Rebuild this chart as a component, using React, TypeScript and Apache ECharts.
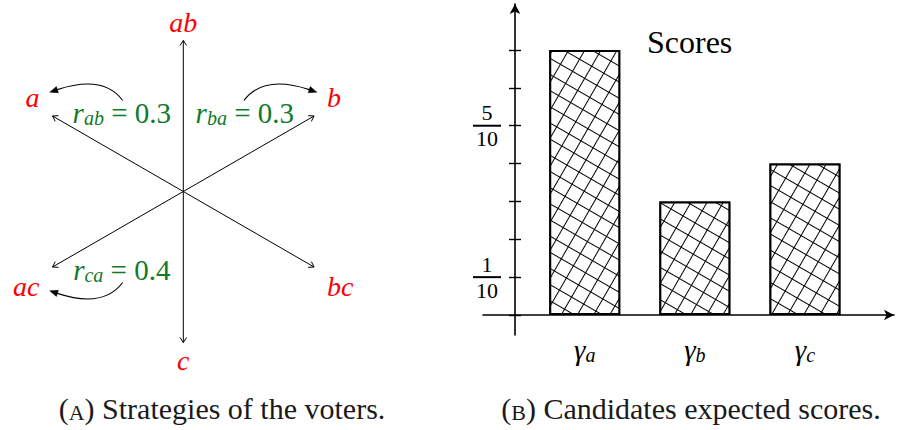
import React, { useEffect, useRef } from 'react';
import * as echarts from 'echarts';

// ---------- data ----------
const strategies = ['ab', 'a', 'b', 'ac', 'bc', 'c'];
const strategyAngles = [90, 150, 30, 210, 330, 270];
const rateNames = ['ab', 'ba', 'ca'];
const rateTargets = ['a', 'b', 'ac'];
const rateValues = [0.3, 0.3, 0.4];

const candidates = ['a', 'b', 'c'];
const scores = [0.7, 0.3, 0.4];
const yTickValues = [0.1, 0.5];
const yTickNumerators = ['1', '5'];
const yTickDenominators = ['10', '10'];
const legendLabel = 'Scores';
const captionTags = ['A', 'B'];
const captionTexts = ['Strategies of the voters.', 'Candidates expected scores.'];

// ---------- style ----------
const SERIF = 'Liberation Serif';
const RED = '#ff0000';
const GREEN = '#0f7a2a';
const ARROW_LEN = 151;

function strategyRender(params: any, api: any) {
  const i = params.dataIndex;
  const ang = (strategyAngles[i] * Math.PI) / 180;
  const c = api.coord([0, 0]);
  const tip = api.coord([ARROW_LEN * Math.cos(ang), ARROW_LEN * Math.sin(ang)]);
  const cx = Math.cos(ang);
  const sy = Math.sign(Math.sin(ang));
  const vertical = Math.abs(cx) < 0.01;
  let lx = tip[0];
  let align = 'center';
  if (!vertical) {
    lx = tip[0] + Math.sign(cx) * 13;
    align = cx > 0 ? 'left' : 'right';
  }
  const ly = tip[1] - sy * (vertical ? 18 : 19);
  const dx = tip[0] - c[0];
  const dy = tip[1] - c[1];
  const L = Math.hypot(dx, dy);
  const ux = dx / L;
  const uy = dy / L;
  const back = 5;
  const half = 3.3;
  const p1 = [tip[0] - ux * back - uy * half, tip[1] - uy * back + ux * half];
  const p2 = [tip[0] - ux * back + uy * half, tip[1] - uy * back - ux * half];
  return {
    type: 'group',
    children: [
      { type: 'line', shape: { x1: c[0], y1: c[1], x2: tip[0], y2: tip[1] }, style: { stroke: '#000', lineWidth: 1 } },
      { type: 'polyline', shape: { points: [p1, tip, p2] }, style: { stroke: '#000', fill: 'none', lineWidth: 1 } },
      {
        type: 'text',
        x: lx,
        y: ly,
        style: {
          text: strategies[i],
          fill: RED,
          textFill: RED,
          fontSize: 28,
          fontFamily: SERIF,
          fontStyle: 'italic',
          align,
          verticalAlign: 'middle',
          textAlign: align,
          textVerticalAlign: 'middle',
        },
      },
    ],
  };
}

function rateRender(params: any, api: any) {
  const i = params.dataIndex;
  const tAng = (strategyAngles[strategies.indexOf(rateTargets[i])] * Math.PI) / 180;
  const sx = Math.sign(Math.cos(tAng));
  const sy = Math.sign(Math.sin(tAng));
  const P = (x: number, y: number) => api.coord([sx * x, sy * y]);
  const s = P(60.6, 91);
  const cp = P(80, 117);
  const e = P(131.6, 100);
  const tx = e[0] - cp[0];
  const ty = e[1] - cp[1];
  const tl = Math.hypot(tx, ty);
  const ux = tx / tl;
  const uy = ty / tl;
  const tip = [e[0] + ux * 2, e[1] + uy * 2];
  const base = [e[0] - ux * 6, e[1] - uy * 6];
  const w = 3.2;
  const t = P(61.5, 78.5);
  const txt = `{r|r}{s|${rateNames[i]}}{t| = ${rateValues[i].toFixed(1)}}`;
  const rich = {
    r: { fontSize: 29, fontFamily: SERIF, fontStyle: 'italic', lineHeight: 30, fill: GREEN, color: GREEN, textFill: GREEN },
    s: { fontSize: 20, fontFamily: SERIF, fontStyle: 'italic', lineHeight: 18, verticalAlign: 'bottom', fill: GREEN, color: GREEN, textFill: GREEN },
    t: { fontSize: 29, fontFamily: SERIF, lineHeight: 30, fill: GREEN, color: GREEN, textFill: GREEN },
  };
  return {
    type: 'group',
    children: [
      {
        type: 'bezierCurve',
        shape: { x1: s[0], y1: s[1], x2: base[0], y2: base[1], cpx1: cp[0], cpy1: cp[1] },
        style: { stroke: '#000', fill: 'none', lineWidth: 1.1 },
      },
      {
        type: 'polygon',
        shape: { points: [tip, [base[0] - uy * w, base[1] + ux * w], [base[0] + uy * w, base[1] - ux * w]] },
        style: { fill: '#000', stroke: '#000', lineWidth: 0.5 },
      },
      {
        type: 'text',
        x: t[0],
        y: t[1],
        style: {
          text: txt,
          rich,
          fill: GREEN,
          textFill: GREEN,
          fontSize: 29,
          fontFamily: SERIF,
          align: 'center',
          verticalAlign: 'middle',
          textAlign: 'center',
          textVerticalAlign: 'middle',
        },
      },
    ],
  };
}

const axisLineStyle = { color: '#000', width: 1.6 };

const option: any = {
  animation: false,
  backgroundColor: '#fff',
  legend: {
    data: [{ name: legendLabel, icon: 'none' }],
    left: 642,
    top: 26,
    padding: 0,
    itemWidth: 0,
    itemHeight: 0,
    selectedMode: false,
    textStyle: { fontFamily: SERIF, fontSize: 32, color: '#000' },
  },
  grid: [
    { left: 529.7, top: 50, width: 330.3, height: 265 },
    { left: 483, top: 4, width: 411, height: 331 },
    { left: 0, top: 0, width: 366.6, height: 383 },
  ],
  xAxis: [
    {
      gridIndex: 0,
      type: 'category',
      data: candidates,
      axisLine: { show: false },
      axisTick: { show: false },
      axisLabel: {
        margin: 20,
        formatter: (v: string) => `{g|γ}{s|${v}}`,
        rich: {
          g: { fontSize: 29, fontFamily: SERIF, fontStyle: 'italic', lineHeight: 30, color: '#000' },
          s: { fontSize: 20, fontFamily: SERIF, fontStyle: 'italic', lineHeight: 18, verticalAlign: 'bottom', color: '#000' },
        },
      },
    },
    {
      gridIndex: 1,
      type: 'value',
      min: -32,
      max: 379,
      axisLine: { show: true, onZero: true, symbol: ['none', 'arrow'], symbolSize: [8, 10], lineStyle: axisLineStyle },
      axisTick: { show: false },
      axisLabel: { show: false },
      splitLine: { show: false },
    },
    { gridIndex: 2, type: 'value', min: -183.3, max: 183.3, show: false },
  ],
  yAxis: [
    {
      gridIndex: 0,
      type: 'value',
      min: 0,
      max: 0.7,
      interval: 0.1,
      offset: 8.7,
      axisLine: { show: false },
      axisTick: { show: true, length: 12, lineStyle: { color: '#000', width: 1.4 } },
      splitLine: { show: false },
      axisLabel: {
        margin: 34,
        align: 'center',
        verticalAlign: 'middle',
        formatter: (v: number) => {
          const k = yTickValues.findIndex((t) => Math.abs(t - v) < 1e-6);
          return k < 0 ? '' : `{n|${yTickNumerators[k]}}\n{b| }\n{d|${yTickDenominators[k]}}`;
        },
        rich: {
          n: { fontSize: 22, fontFamily: SERIF, lineHeight: 22, align: 'center', color: '#000' },
          b: { width: 28, height: 2, lineHeight: 4, fontSize: 2, backgroundColor: '#000', align: 'center' },
          d: { fontSize: 22, fontFamily: SERIF, lineHeight: 22, align: 'center', color: '#000' },
        },
      },
    },
    {
      gridIndex: 1,
      type: 'value',
      min: -20,
      max: 311,
      axisLine: { show: true, onZero: true, symbol: ['none', 'arrow'], symbolSize: [8, 10], lineStyle: axisLineStyle },
      axisTick: { show: false },
      axisLabel: { show: false },
      splitLine: { show: false },
    },
    { gridIndex: 2, type: 'value', min: -191.5, max: 191.5, show: false },
  ],
  series: [
    {
      name: legendLabel,
      type: 'bar',
      xAxisIndex: 0,
      yAxisIndex: 0,
      data: scores,
      barWidth: 71,
      itemStyle: {
        color: '#000',
        borderColor: '#000',
        borderWidth: 2,
        decal: {
          symbol: 'rect',
          symbolSize: 1,
          color: '#fff',
          dashArrayX: [13, 1],
          dashArrayY: [13, 1],
          rotation: Math.PI / 6,
        },
      },
    },
    {
      type: 'custom',
      xAxisIndex: 2,
      yAxisIndex: 2,
      silent: true,
      clip: false,
      data: strategies.map((_, i) => [0, 0, i]),
      renderItem: strategyRender,
    },
    {
      type: 'custom',
      xAxisIndex: 2,
      yAxisIndex: 2,
      silent: true,
      clip: false,
      data: rateNames.map((_, i) => [0, 0, i]),
      renderItem: rateRender,
    },
  ],
  graphic: captionTags.map((tag, i) => ({
    type: 'text',
    x: i === 0 ? 222 : 691,
    y: 408,
    style: {
      text: `({sc|${tag}}) ${captionTexts[i]}`,
      rich: { sc: { fontSize: 22, fontFamily: SERIF, lineHeight: 22, verticalAlign: 'bottom', fill: '#1a1a1a', color: '#1a1a1a' } },
      fontSize: 30,
      fontFamily: SERIF,
      fill: '#1a1a1a',
      textAlign: 'center',
      textVerticalAlign: 'middle',
    },
  })),
};

export default function App() {
  const ref = useRef<HTMLDivElement>(null);
  useEffect(() => {
    const chart = echarts.init(ref.current!, null, { renderer: 'svg' });
    chart.setOption(option);
    return () => chart.dispose();
  }, []);
  return (
    <div
      ref={ref}
      style={{ position: 'absolute', left: 0, top: 0, width: 899, height: 430, background: '#fff' }}
    />
  );
}
